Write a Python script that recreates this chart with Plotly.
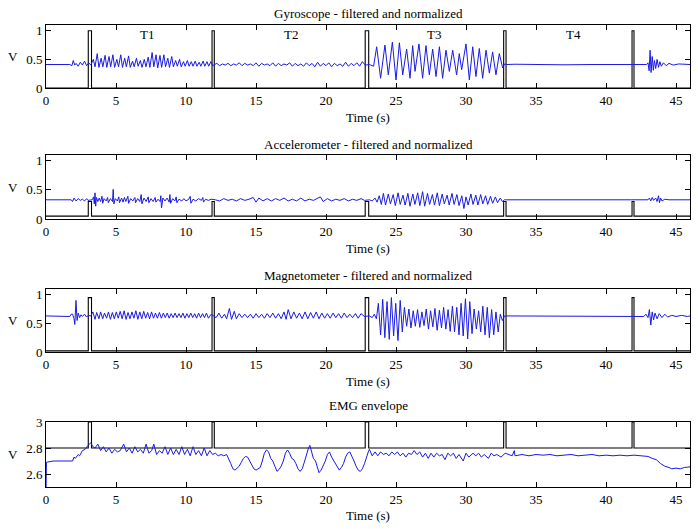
import plotly.graph_objects as go

# ---------------- pulse markers (start / end times of task triggers) ----------------
pulse_start = [3.02, 11.86, 22.80, 32.69, 41.86]
pulse_end = [3.25, 12.02, 23.05, 32.86, 42.00]

# ---------------- Gyroscope ----------------
gyro_pre_t = [0, 1.7, 1.85, 1.95, 2.05, 2.15, 2.3, 2.45, 2.6, 2.75, 2.9, 3.05, 3.2]
gyro_pre_v = [0.41, 0.41, 0.39, 0.48, 0.40, 0.43, 0.38, 0.45, 0.40, 0.47, 0.39, 0.44, 0.40]
gyro_t1_t = [3.38, 3.50, 3.66, 3.78, 3.94, 4.06, 4.22, 4.34, 4.50, 4.62, 4.78, 4.90, 5.06, 5.18,
             5.34, 5.46, 5.62, 5.74, 5.90, 6.02, 6.18, 6.30, 6.46, 6.58, 6.74, 6.86, 7.02, 7.14,
             7.30, 7.42, 7.58, 7.70, 7.86, 7.98, 8.14, 8.26, 8.42, 8.54, 8.70, 8.82, 8.98, 9.10,
             9.26, 9.38, 9.54, 9.66, 9.82, 9.94, 10.10, 10.22, 10.38, 10.50, 10.66, 10.78, 10.94,
             11.06, 11.22, 11.34, 11.50, 11.62, 11.78, 11.90]
gyro_t1_v = [0.50, 0.37, 0.60, 0.36, 0.52, 0.37, 0.57, 0.36, 0.55, 0.37, 0.58, 0.36, 0.50, 0.37,
             0.58, 0.36, 0.52, 0.37, 0.56, 0.36, 0.47, 0.37, 0.52, 0.38, 0.48, 0.36, 0.50, 0.37,
             0.54, 0.36, 0.62, 0.37, 0.58, 0.35, 0.57, 0.36, 0.58, 0.37, 0.52, 0.36, 0.55, 0.37,
             0.48, 0.38, 0.50, 0.37, 0.46, 0.38, 0.48, 0.38, 0.46, 0.38, 0.47, 0.38, 0.45,
             0.38, 0.47, 0.38, 0.46, 0.38, 0.46, 0.39]
gyro_t2_t = [12.2, 12.4, 12.6, 12.8, 13.0, 13.2, 13.4, 13.6, 13.8, 14.0, 14.2, 14.4, 14.6, 14.8,
             15.0, 15.2, 15.4, 15.6, 15.8, 16.0, 16.2, 16.4, 16.6, 16.8, 17.0, 17.2, 17.4, 17.6,
             17.8, 18.0, 18.2, 18.4, 18.6, 18.8, 19.0, 19.2, 19.4, 19.6, 19.8, 20.0, 20.2, 20.4,
             20.6, 20.8, 21.0, 21.2, 21.4, 21.6, 21.8, 22.0, 22.2, 22.4, 22.6, 22.8]
gyro_t2_v = [0.43, 0.39, 0.42, 0.40, 0.43, 0.39, 0.42, 0.40, 0.44, 0.39, 0.43, 0.40, 0.42, 0.39,
             0.44, 0.38, 0.43, 0.40, 0.42, 0.39, 0.44, 0.38, 0.43, 0.39, 0.42, 0.40, 0.44, 0.38,
             0.43, 0.39, 0.42, 0.38, 0.44, 0.39, 0.43, 0.37, 0.45, 0.38, 0.43, 0.39, 0.44, 0.37,
             0.43, 0.39, 0.42, 0.38, 0.45, 0.38, 0.43, 0.39, 0.44, 0.38, 0.46, 0.40]
gyro_t3_t = [23.1, 23.2, 23.4, 23.62, 23.90, 24.21, 24.45, 24.74, 25.00, 25.24, 25.48, 25.76, 26.00,
             26.19, 26.36, 26.64, 26.90, 27.14, 27.38, 27.62, 27.86, 28.10, 28.33, 28.57, 28.81,
             29.05, 29.33, 29.52, 29.69, 30.00, 30.24, 30.48, 30.71, 30.95, 31.19, 31.43, 31.67,
             31.90, 32.14, 32.38, 32.62, 32.75]
gyro_t3_v = [0.41, 0.40, 0.38, 0.72, 0.17, 0.75, 0.23, 0.80, 0.14, 0.79, 0.23, 0.68, 0.17,
             0.74, 0.29, 0.77, 0.17, 0.74, 0.23, 0.68, 0.20, 0.72, 0.17, 0.66, 0.29,
             0.66, 0.23, 0.60, 0.32, 0.77, 0.14, 0.72, 0.20, 0.69, 0.17, 0.66, 0.26,
             0.63, 0.23, 0.60, 0.35, 0.42]
gyro_t4_t = [32.9, 33.5, 35.0, 37.0, 39.0, 41.8]
gyro_t4_v = [0.41, 0.415, 0.41, 0.405, 0.41, 0.41]
gyro_post_t = [42.1, 42.9, 43.0, 43.08, 43.15, 43.22, 43.3, 43.38, 43.46, 43.55, 43.65, 43.75,
               43.85, 43.95, 44.1, 44.3, 44.5, 44.8, 45.2, 45.6, 46.0]
gyro_post_v = [0.41, 0.41, 0.44, 0.30, 0.66, 0.27, 0.55, 0.31, 0.48, 0.34, 0.50, 0.36,
               0.46, 0.38, 0.44, 0.39, 0.43, 0.40, 0.42, 0.41, 0.41]

# ---------------- Accelerometer ----------------
acc_pre_t = [0, 1.8, 1.9, 2.0, 2.15, 2.3, 2.45, 2.6, 2.75, 2.9, 3.0, 3.2]
acc_pre_v = [0.33, 0.33, 0.30, 0.36, 0.31, 0.35, 0.32, 0.34, 0.31, 0.35, 0.32, 0.33]
acc_t1_t = [3.3, 3.4, 3.45, 3.5, 3.55, 3.6, 3.7, 3.8, 3.9, 4.0, 4.05, 4.15, 4.3, 4.4, 4.45, 4.6,
            4.75, 4.8, 4.85, 4.95, 5.1, 5.2, 5.25, 5.4, 5.5, 5.6, 5.7, 5.85, 5.9, 6.05, 6.2, 6.35,
            6.4, 6.55, 6.7, 6.8, 6.85, 7.0, 7.15, 7.3, 7.35, 7.5, 7.65, 7.8, 7.85, 8.0, 8.15, 8.2,
            8.25, 8.35, 8.5, 8.65, 8.8, 8.85, 8.9, 9.05, 9.2, 9.3, 9.35, 9.5, 9.7, 9.85, 10.0,
            10.2, 10.3, 10.35, 10.5, 10.7, 10.9, 11.1, 11.2, 11.25, 11.4, 11.6, 11.8]
acc_t1_v = [0.33, 0.38, 0.26, 0.45, 0.22, 0.37, 0.30, 0.36, 0.30, 0.39, 0.27, 0.35, 0.31, 0.37, 0.28, 0.35,
            0.30, 0.51, 0.26, 0.35, 0.31, 0.38, 0.28, 0.36, 0.29, 0.37, 0.30, 0.39, 0.27, 0.35, 0.31, 0.37,
            0.28, 0.35, 0.30, 0.42, 0.26, 0.36, 0.30, 0.38, 0.28, 0.35, 0.30, 0.37, 0.29, 0.34, 0.30, 0.40,
            0.19, 0.36, 0.31, 0.36, 0.29, 0.42, 0.27, 0.35, 0.31, 0.38, 0.28, 0.34, 0.31, 0.35, 0.31,
            0.34, 0.39, 0.27, 0.34, 0.31, 0.35, 0.32, 0.37, 0.29, 0.34, 0.32, 0.34]
acc_t2_t = [12.1, 12.4, 12.7, 13.0, 13.3, 13.6, 13.9, 14.2, 14.5, 14.8, 15.0, 15.2, 15.5, 15.8,
            16.1, 16.4, 16.7, 17.0, 17.3, 17.6, 17.9, 18.2, 18.5, 18.8, 19.1, 19.4, 19.6, 19.8,
            20.1, 20.4, 20.7, 21.0, 21.3, 21.6, 21.9, 22.2, 22.5, 22.75]
acc_t2_v = [0.33, 0.31, 0.35, 0.32, 0.34, 0.31, 0.35, 0.32, 0.34, 0.37, 0.29, 0.36, 0.31, 0.35,
            0.31, 0.35, 0.32, 0.36, 0.31, 0.34, 0.31, 0.36, 0.31, 0.34, 0.32, 0.35, 0.38, 0.30,
            0.35, 0.31, 0.34, 0.32, 0.35, 0.31, 0.34, 0.32, 0.35, 0.32]
acc_t3_t = [23.1, 23.3, 23.5, 23.65, 23.8, 23.95, 24.1, 24.25, 24.45, 24.6, 24.8, 24.95, 25.15,
            25.3, 25.5, 25.65, 25.85, 26.0, 26.2, 26.35, 26.55, 26.7, 26.9, 27.05, 27.25, 27.4,
            27.6, 27.75, 27.95, 28.1, 28.3, 28.45, 28.65, 28.8, 29.0, 29.15, 29.35, 29.5, 29.7,
            29.85, 30.0, 30.15, 30.35, 30.5, 30.7, 30.85, 31.05, 31.2, 31.4, 31.55, 31.75, 31.9,
            32.1, 32.25, 32.45, 32.6, 32.75]
acc_t3_v = [0.33, 0.31, 0.36, 0.29, 0.40, 0.25, 0.44, 0.24, 0.43, 0.26, 0.42, 0.23, 0.45,
            0.25, 0.41, 0.24, 0.44, 0.22, 0.43, 0.25, 0.45, 0.23, 0.47, 0.22, 0.44, 0.25,
            0.42, 0.24, 0.45, 0.23, 0.43, 0.26, 0.41, 0.24, 0.44, 0.25, 0.42, 0.23, 0.40,
            0.18, 0.38, 0.24, 0.43, 0.25, 0.41, 0.24, 0.42, 0.26, 0.40, 0.25, 0.39, 0.27,
            0.38, 0.28, 0.36, 0.30, 0.33]
acc_t4_t = [32.9, 35.0, 38.0, 41.8]
acc_t4_v = [0.33, 0.335, 0.33, 0.33]
acc_post_t = [42.1, 43.0, 43.1, 43.2, 43.3, 43.4, 43.55, 43.65, 43.75, 43.82, 43.9, 44.0, 44.2,
              44.5, 45.0, 45.5, 46.0]
acc_post_v = [0.33, 0.33, 0.36, 0.31, 0.37, 0.32, 0.36, 0.30, 0.40, 0.28, 0.36, 0.31, 0.34,
              0.33, 0.33, 0.33, 0.33]

# ---------------- Magnetometer ----------------
mag_pre_t = [0, 1.5, 1.7, 1.8, 1.9, 2.0, 2.06, 2.14, 2.22, 2.3, 2.4, 2.5, 2.6, 2.75, 2.9, 3.0, 3.2]
mag_pre_v = [0.63, 0.63, 0.62, 0.66, 0.66, 0.58, 0.48, 0.90, 0.55, 0.68, 0.60, 0.65, 0.62, 0.66,
             0.61, 0.64, 0.63]
mag_t1_t = [3.35, 3.5, 3.62, 3.78, 3.9, 4.05, 4.18, 4.33, 4.46, 4.6, 4.74, 4.88, 5.02, 5.16, 5.3,
            5.44, 5.58, 5.72, 5.86, 6.0, 6.14, 6.28, 6.42, 6.56, 6.7, 6.84, 6.98, 7.12, 7.26, 7.4,
            7.54, 7.68, 7.82, 7.96, 8.1, 8.24, 8.38, 8.52, 8.66, 8.8, 8.94, 9.08, 9.22, 9.36, 9.5,
            9.64, 9.78, 9.92, 10.06, 10.2, 10.34, 10.48, 10.62, 10.76, 10.9, 11.04, 11.18, 11.32,
            11.46, 11.6, 11.8]
mag_t1_v = [0.70, 0.57, 0.69, 0.58, 0.70, 0.58, 0.68, 0.59, 0.70, 0.57, 0.69, 0.58, 0.70, 0.59, 0.71,
            0.58, 0.72, 0.57, 0.69, 0.58, 0.70, 0.59, 0.72, 0.57, 0.70, 0.58, 0.71, 0.59, 0.69, 0.58,
            0.70, 0.59, 0.68, 0.59, 0.69, 0.59, 0.68, 0.60, 0.68, 0.59, 0.67, 0.60, 0.68, 0.60, 0.67,
            0.60, 0.68, 0.59, 0.67, 0.60, 0.68, 0.60, 0.67, 0.59, 0.68, 0.60, 0.67, 0.60,
            0.68, 0.59, 0.66]
mag_t2_t = [12.15, 12.35, 12.55, 12.75, 12.9, 13.1, 13.25, 13.45, 13.6, 13.8, 14.0, 14.2, 14.4,
            14.6, 14.8, 15.0, 15.2, 15.4, 15.6, 15.8, 16.0, 16.2, 16.4, 16.6, 16.8, 17.0, 17.15,
            17.3, 17.5, 17.7, 17.9, 18.1, 18.3, 18.5, 18.7, 18.9, 19.1, 19.3, 19.5, 19.7, 19.9,
            20.1, 20.3, 20.5, 20.7, 20.9, 21.1, 21.3, 21.5, 21.7, 21.9, 22.1, 22.3, 22.5, 22.75]
mag_t2_v = [0.60, 0.68, 0.59, 0.66, 0.58, 0.76, 0.57, 0.71, 0.58, 0.67, 0.60, 0.66, 0.60,
            0.66, 0.59, 0.67, 0.60, 0.66, 0.59, 0.67, 0.60, 0.68, 0.59, 0.67, 0.58, 0.70, 0.57,
            0.74, 0.58, 0.70, 0.59, 0.68, 0.58, 0.70, 0.58, 0.69, 0.59, 0.70, 0.58, 0.68, 0.59,
            0.67, 0.59, 0.68, 0.60, 0.67, 0.59, 0.68, 0.60, 0.66, 0.60, 0.67, 0.59, 0.67, 0.62]
mag_t3_t = [23.1, 23.3, 23.45, 23.6, 23.74, 23.9, 24.05, 24.2, 24.36, 24.52, 24.67, 24.83, 24.98,
            25.14, 25.3, 25.45, 25.6, 25.76, 25.92, 26.07, 26.23, 26.38, 26.54, 26.7, 26.85, 27.0,
            27.16, 27.32, 27.47, 27.63, 27.78, 27.94, 28.1, 28.25, 28.4, 28.56, 28.72, 28.87,
            29.03, 29.18, 29.34, 29.5, 29.65, 29.8, 29.96, 30.12, 30.27, 30.43, 30.58, 30.74,
            30.9, 31.05, 31.2, 31.36, 31.52, 31.67, 31.83, 31.98, 32.14, 32.3, 32.45, 32.6, 32.75]
mag_t3_v = [0.63, 0.60, 0.66, 0.58, 0.85, 0.30, 0.92, 0.25, 0.88, 0.22, 0.95, 0.28, 0.85,
            0.20, 0.90, 0.35, 0.78, 0.45, 0.75, 0.42, 0.72, 0.45, 0.74, 0.43, 0.70, 0.46,
            0.75, 0.40, 0.72, 0.44, 0.76, 0.38, 0.73, 0.42, 0.78, 0.40, 0.74, 0.36,
            0.80, 0.35, 0.78, 0.30, 0.85, 0.28, 0.93, 0.23, 0.88, 0.32, 0.75, 0.40,
            0.72, 0.35, 0.80, 0.30, 0.78, 0.25, 0.74, 0.30, 0.70, 0.35, 0.66, 0.55, 0.63]
mag_t4_t = [32.9, 34.0, 36.0, 38.0, 40.0, 41.8]
mag_t4_v = [0.63, 0.625, 0.63, 0.625, 0.63, 0.63]
mag_post_t = [42.1, 42.7, 42.85, 43.0, 43.1, 43.2, 43.3, 43.4, 43.5, 43.65, 43.8, 44.0, 44.2,
              44.4, 44.7, 45.0, 45.4, 45.8, 46.0]
mag_post_v = [0.63, 0.62, 0.66, 0.60, 0.74, 0.47, 0.70, 0.56, 0.68, 0.58, 0.67, 0.60, 0.66,
              0.61, 0.64, 0.62, 0.64, 0.62, 0.63]

# ---------------- EMG envelope ----------------
emg_a_t = [0, 0.03, 0.5, 1.0, 1.5, 1.9, 2.0, 2.1, 2.3, 2.4, 2.6, 2.8, 3.0, 3.2, 3.35,
           3.5, 3.7, 3.9, 4.1, 4.3, 4.5, 4.7, 4.9, 5.1, 5.3, 5.55, 5.75, 5.95, 6.15, 6.35,
           6.55, 6.75, 6.95, 7.15, 7.35, 7.55, 7.7, 7.9, 8.1, 8.3, 8.5, 8.7, 8.9, 9.1, 9.3,
           9.5, 9.7, 9.9, 10.1, 10.3, 10.5, 10.7, 10.9, 11.1, 11.3, 11.5, 11.7, 11.9]
emg_a_v = [2.45, 2.69, 2.70, 2.70, 2.70, 2.70, 2.73, 2.72, 2.75, 2.74, 2.78, 2.79, 2.82, 2.84, 2.81,
           2.80, 2.83, 2.78, 2.81, 2.77, 2.80, 2.76, 2.79, 2.77, 2.78, 2.83, 2.77, 2.80, 2.76, 2.81,
           2.77, 2.79, 2.76, 2.83, 2.76, 2.78, 2.83, 2.75, 2.78, 2.76, 2.81, 2.75, 2.80, 2.75, 2.79,
           2.75, 2.81, 2.75, 2.79, 2.74, 2.81, 2.75, 2.78, 2.74, 2.80, 2.74, 2.78, 2.75]
emg_b_t = [12.1, 12.3, 12.5, 12.7, 12.9, 13.05, 13.2, 13.35, 13.5, 13.65, 13.8, 13.95, 14.1, 14.25,
           14.4, 14.55, 14.7, 14.85, 15.0, 15.15, 15.3, 15.45, 15.6, 15.75, 15.9, 16.05, 16.2, 16.35,
           16.5, 16.65, 16.8, 16.95, 17.1, 17.25, 17.4, 17.55, 17.7, 17.85, 18.0, 18.15, 18.3, 18.45,
           18.6, 18.75, 18.85, 18.95, 19.1, 19.25, 19.4, 19.5, 19.65, 19.8, 19.95, 20.1, 20.25, 20.4,
           20.55, 20.7, 20.85, 20.95, 21.1, 21.25, 21.4, 21.55, 21.7, 21.85, 22.0, 22.15, 22.3, 22.45,
           22.6, 22.75, 22.9, 23.05, 23.1]
emg_b_v = [2.76, 2.74, 2.75, 2.74, 2.75, 2.72, 2.68, 2.64, 2.63, 2.645, 2.66, 2.69, 2.72, 2.735,
           2.73, 2.70, 2.67, 2.64, 2.63, 2.64, 2.65, 2.70, 2.76, 2.785, 2.77, 2.72, 2.70, 2.66,
           2.62, 2.635, 2.66, 2.70, 2.76, 2.785, 2.76, 2.72, 2.71, 2.68, 2.64, 2.62, 2.64, 2.69,
           2.75, 2.80, 2.82, 2.78, 2.72, 2.70, 2.64, 2.61, 2.63, 2.66, 2.70, 2.75, 2.77, 2.73,
           2.70, 2.67, 2.64, 2.63, 2.65, 2.68, 2.73, 2.76, 2.77, 2.74, 2.70, 2.66, 2.63, 2.62,
           2.64, 2.68, 2.74, 2.78, 2.79]
emg_c_t = [23.3, 23.5, 23.7, 23.9, 24.1, 24.3, 24.5, 24.7, 24.9, 25.1, 25.3, 25.5, 25.7, 25.9,
           26.1, 26.3, 26.5, 26.7, 26.9, 27.1, 27.3, 27.5, 27.7, 27.9, 28.1, 28.3, 28.5, 28.7,
           28.9, 29.1, 29.3, 29.5, 29.8, 30.0, 30.2, 30.5, 30.7, 30.9, 31.1, 31.3, 31.6, 31.8,
           32.0, 32.2, 32.5, 32.8, 33.0, 33.3, 33.45, 33.5]
emg_c_v = [2.74, 2.77, 2.74, 2.77, 2.75, 2.76, 2.74, 2.77, 2.75, 2.77, 2.74, 2.76, 2.73, 2.76,
           2.75, 2.78, 2.75, 2.77, 2.73, 2.76, 2.72, 2.76, 2.73, 2.76, 2.74, 2.75, 2.71, 2.76,
           2.74, 2.76, 2.72, 2.75, 2.70, 2.76, 2.73, 2.76, 2.74, 2.76, 2.73, 2.75, 2.72, 2.76,
           2.74, 2.75, 2.73, 2.76, 2.75, 2.74, 2.78, 2.74]
emg_d_t = [34.0, 34.5, 35.0, 35.5, 36.0, 36.5, 37.0, 37.5, 38.0, 38.5, 39.0, 39.5, 40.0, 40.5,
           41.0, 41.5, 42.0, 42.5, 43.0, 43.3, 43.6, 43.9, 44.2, 44.5, 44.7, 45.0, 45.3, 45.6, 46.0]
emg_d_v = [2.75, 2.74, 2.75, 2.745, 2.75, 2.74, 2.745, 2.75, 2.74, 2.745, 2.75, 2.74, 2.745, 2.74,
           2.745, 2.74, 2.745, 2.74, 2.735, 2.72, 2.71, 2.68, 2.66, 2.65, 2.64, 2.645, 2.64, 2.65, 2.655]

# pulse levels (low, high) per panel
gyro_pulse = (0.0, 1.0)
acc_pulse = (0.05, 0.30)
mag_pulse = (0.02, 0.95)
emg_pulse = (2.80, 3.00)

titles = ["Gyroscope - filtered and normalized", "Accelerometer - filtered and normalized",
          "Magnetometer - filtered and normalized", "EMG envelope"]
task_labels = ["T1", "T2", "T3", "T4"]
task_label_t = [7.2, 17.5, 27.7, 37.7]
x_ticks = [0, 5, 10, 15, 20, 25, 30, 35, 40, 45]


def pulse_line(levels):
    lo, hi = levels
    xs, ys = [0.0], [lo]
    for s, e in zip(pulse_start, pulse_end):
        xs += [s, s, e, e]
        ys += [lo, hi, hi, lo]
    xs.append(46.0)
    ys.append(lo)
    return xs, ys


series = [
    (gyro_pre_t + gyro_t1_t + gyro_t2_t + gyro_t3_t + gyro_t4_t + gyro_post_t,
     gyro_pre_v + gyro_t1_v + gyro_t2_v + gyro_t3_v + gyro_t4_v + gyro_post_v, gyro_pulse),
    (acc_pre_t + acc_t1_t + acc_t2_t + acc_t3_t + acc_t4_t + acc_post_t,
     acc_pre_v + acc_t1_v + acc_t2_v + acc_t3_v + acc_t4_v + acc_post_v, acc_pulse),
    (mag_pre_t + mag_t1_t + mag_t2_t + mag_t3_t + mag_t4_t + mag_post_t,
     mag_pre_v + mag_t1_v + mag_t2_v + mag_t3_v + mag_t4_v + mag_post_v, mag_pulse),
    (emg_a_t + emg_b_t + emg_c_t + emg_d_t, emg_a_v + emg_b_v + emg_c_v + emg_d_v, emg_pulse),
]

W, H = 698, 529
# pixel boxes (top, bottom) of each panel
boxes = [(25, 88), (155, 219), (289, 352), (422, 487)]
yranges = [[0, 1.1], [0, 1.1], [0, 1.1], [2.5, 3.0]]
yticks = [[0, 0.5, 1], [0, 0.5, 1], [0, 0.5, 1], [2.6, 2.8, 3.0]]
ytick_text = [["0", "0.5", "1"], ["0", "0.5", "1"], ["0", "0.5", "1"], ["2.6", "2.8", "3"]]
title_y = [13, 145, 275, 405]
xlabel_y = [117, 248, 381, 515]

FONT = "Liberation Serif"
fig = go.Figure()
layout = dict(width=W, height=H, margin=dict(l=46, r=8, t=0, b=0, autoexpand=False),
              paper_bgcolor="white", plot_bgcolor="white", showlegend=False,
              font=dict(family=FONT, size=13, color="black"))
annotations = []
for i, (ts, vs, lv) in enumerate(series):
    n = i + 1
    xa = "x" if n == 1 else f"x{n}"
    ya = "y" if n == 1 else f"y{n}"
    px, py = pulse_line(lv)
    fig.add_trace(go.Scatter(x=px, y=py, mode="lines", line=dict(color="black", width=1.1),
                             xaxis=xa, yaxis=ya, hoverinfo="skip"))
    fig.add_trace(go.Scatter(x=ts, y=vs, mode="lines", line=dict(color="#1a1ae6", width=1),
                             xaxis=xa, yaxis=ya))
    top, bot = boxes[i]
    axcommon = dict(showline=True, linecolor="black", linewidth=1, mirror="ticks",
                    ticks="inside", ticklen=5, tickcolor="black", tickwidth=1,
                    showgrid=False, zeroline=False, automargin=False,
                    tickfont=dict(family=FONT, size=13, color="black"))
    layout["xaxis" if n == 1 else f"xaxis{n}"] = dict(
        domain=[0, 1], range=[0, 46], anchor=ya, tickvals=x_ticks,
        ticktext=[str(v) for v in x_ticks], **axcommon)
    layout["yaxis" if n == 1 else f"yaxis{n}"] = dict(
        domain=[(H - bot) / H, (H - top) / H], range=yranges[i], anchor=xa,
        tickvals=yticks[i], ticktext=ytick_text[i], **axcommon)
    annotations.append(dict(text=titles[i], xref="paper", yref="paper", x=0.5, y=(H - title_y[i]) / H,
                            showarrow=False, xanchor="center", yanchor="middle",
                            font=dict(family=FONT, size=13, color="black")))
    annotations.append(dict(text="Time (s)", xref="paper", yref="paper", x=0.5, y=(H - xlabel_y[i]) / H,
                            showarrow=False, xanchor="center", yanchor="middle",
                            font=dict(family=FONT, size=13, color="black")))
    annotations.append(dict(text="V", xref="paper", yref="paper", x=(13 - 46) / (W - 54),
                            y=(H - (top + bot) / 2) / H, showarrow=False,
                            xanchor="center", yanchor="middle",
                            font=dict(family=FONT, size=13, color="black")))

for lab, tx in zip(task_labels, task_label_t):
    annotations.append(dict(text=lab, xref="x", yref="y", x=tx, y=0.93, showarrow=False,
                            xanchor="center", yanchor="middle",
                            font=dict(family=FONT, size=13, color="black")))

layout["annotations"] = annotations
fig.update_layout(**layout)
fig.write_html("out.html", config={"displayModeBar": False},
               post_script="document.body.style.margin='0';document.body.style.overflow='hidden';")
